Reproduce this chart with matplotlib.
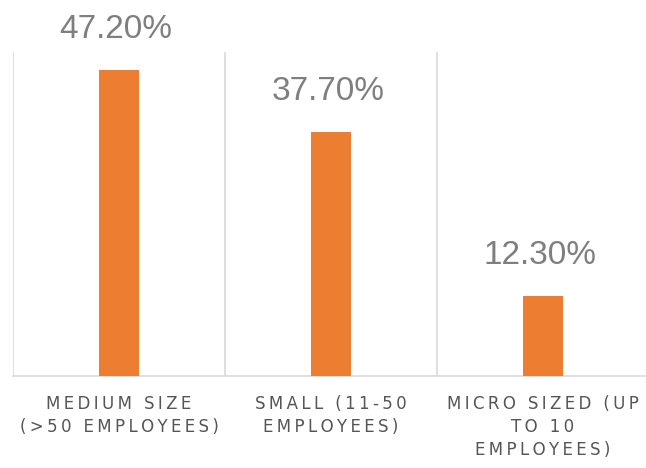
import matplotlib
matplotlib.use("Agg")
import matplotlib.pyplot as plt

categories = ["MEDIUM SIZE\n(>50 EMPLOYEES)", "SMALL (11-50\nEMPLOYEES)", "MICRO SIZED (UP\nTO 10\nEMPLOYEES)"]
values = [47.2, 37.7, 12.3]
value_labels = ["47.20%", "37.70%", "12.30%"]

THIN = "\u2009"
def spaced(s):
    return "\n".join(THIN.join(list(line)) for line in s.split("\n"))

fig = plt.figure(figsize=(6.46, 4.68), dpi=100)
ax = fig.add_axes([13/646, 92/468, 636/646, 324/468])

x = list(range(len(categories)))
bars = ax.bar(x, values, width=0.19, color="#ED7D31", zorder=3)

ax.set_xlim(-0.5, len(categories) - 0.5)
ax.set_ylim(0, 50)

for xv in [-0.5 + i for i in range(len(categories) + 1)]:
    ax.axvline(xv, color="#d9d9d9", lw=1.2, zorder=1)

for s in ["top", "right", "left"]:
    ax.spines[s].set_visible(False)
ax.spines["bottom"].set_color("#d9d9d9")
ax.spines["bottom"].set_linewidth(1.2)
ax.set_yticks([])

ax.set_xticks(x)
ax.set_xticklabels([spaced(c) for c in categories], fontsize=12, color="#555555",
                   family="DejaVu Sans", ha="center", multialignment="center",
                   linespacing=1.35)
ax.tick_params(axis="x", length=0, pad=14)

for xi, v, lab in zip(x, values, value_labels):
    ax.annotate(lab, xy=(xi, v), xytext=(-2, 23), textcoords="offset points",
                ha="center", va="baseline", fontsize=24, color="#7f7f7f",
                family="Liberation Sans")

fig.savefig("out.png", dpi=100)
